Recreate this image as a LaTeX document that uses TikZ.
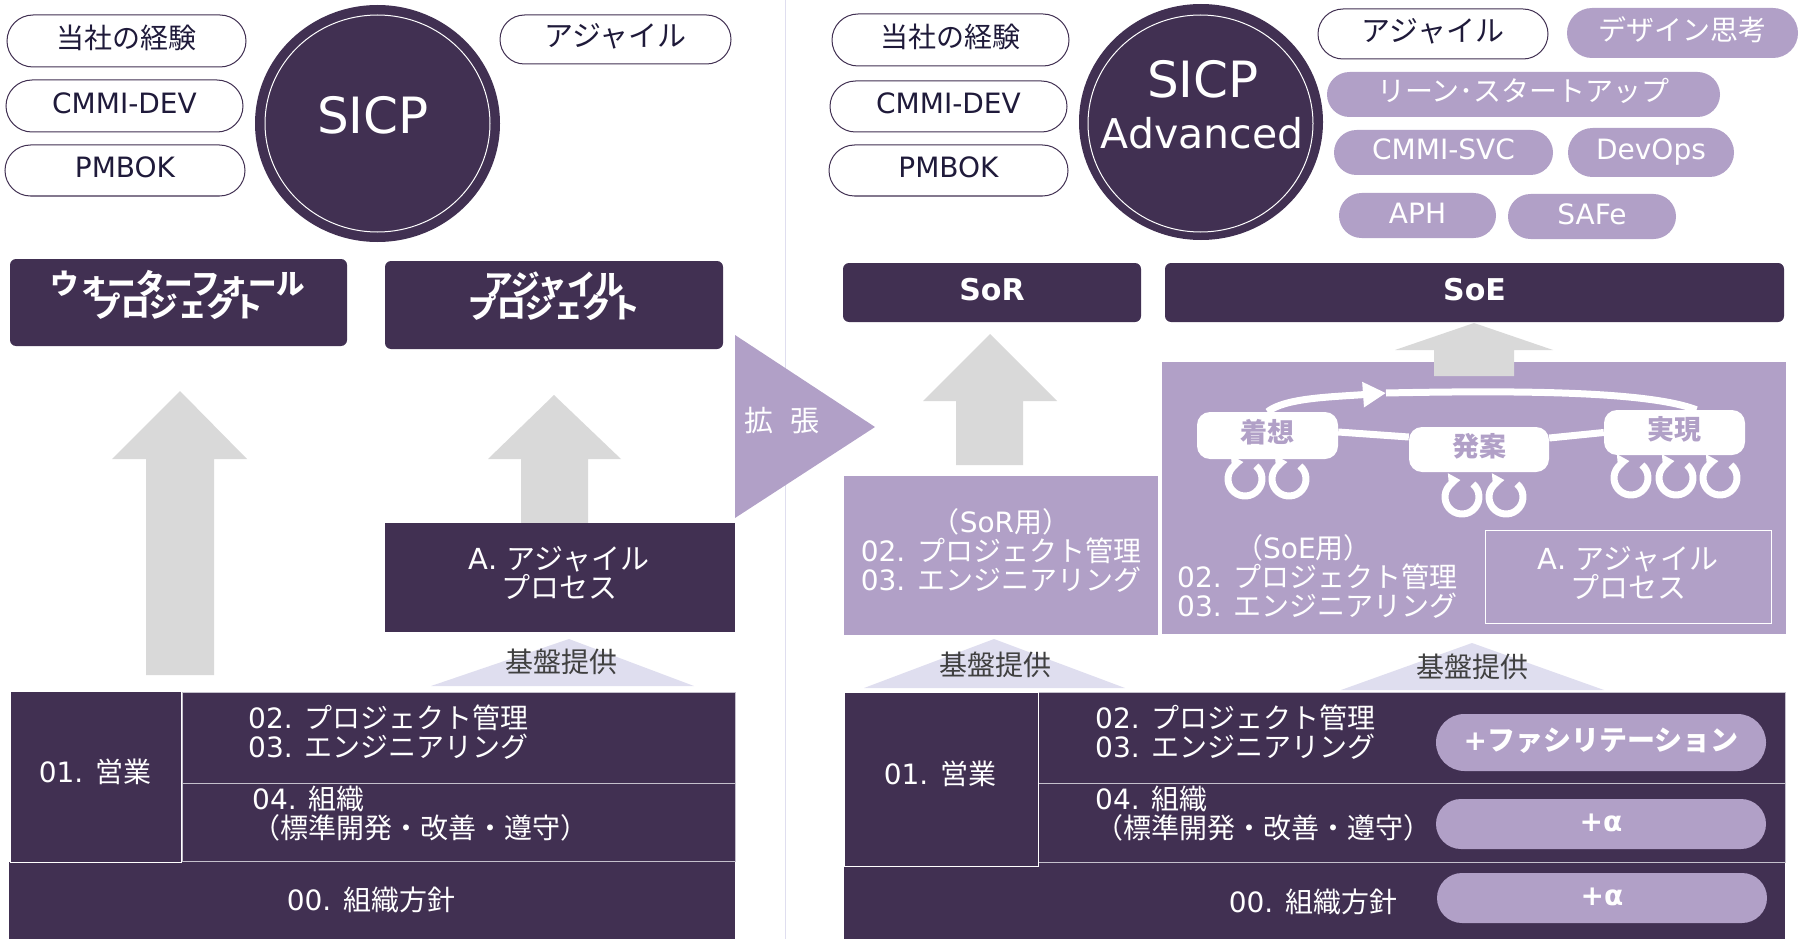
\documentclass[tikz,border=0pt]{standalone}
\usepackage{fontspec}
\setmainfont{DejaVu Sans}
\newfontfamily\jpfont{Noto Sans CJK JP}
\newcommand{\jp}[1]{{\jpfont #1}}
\usetikzlibrary{shapes.geometric,shapes.misc,arrows.meta}
\definecolor{sicpdark}{HTML}{413052}
\definecolor{sicplilac}{HTML}{B1A0C7}
\definecolor{sicppale}{HTML}{DFDEEF}
\definecolor{sicpgrey}{HTML}{D9D9D9}
\definecolor{sicpink}{HTML}{1F1A3A}
\definecolor{sicpline}{HTML}{C4C0CC}
\setlength\normallineskiplimit{-100pt}
\setlength\lineskiplimit{-100pt}
\tikzset{
    lbl/.style={font=\fontsize{28}{29}\selectfont, inner sep=0pt, text=white, text height=24pt, text depth=3pt},
    lblleft/.style={font=\fontsize{28}{29}\selectfont, inner sep=0pt, text=white, align=left, anchor=west},
    lblmid/.style={font=\fontsize{28}{29}\selectfont, inner sep=0pt, text=white, align=center},
    lblproc/.style={lblmid, font=\fontsize{29}{29}\selectfont},
    lbltitle/.style={font=\bfseries\fontsize{28.5}{23.5}\selectfont, inner sep=0pt, text=white, align=center},
    pill/.style={rounded rectangle, inner sep=0pt, font=\fontsize{28}{29}\selectfont, text height=24pt, text depth=9pt},
    whitepill/.style={pill, draw=sicpdark, line width=1pt, fill=white, text=sicpink},
    lilacpill/.style={pill, fill=sicplilac, text=white},
    boldpill/.style={lilacpill, font=\bfseries\fontsize{28}{29}\selectfont},
    darkbox/.style={rectangle, inner sep=0pt, fill=sicpdark, draw=sicpline, line width=1pt},
    titlebox/.style={rectangle, rounded corners=6pt, inner sep=0pt, fill=sicpdark},
    headbox/.style={titlebox, text=white, font=\bfseries\fontsize{30}{30}\selectfont, text height=24pt, text depth=8pt},
    lilacbox/.style={rectangle, inner sep=0pt, fill=sicplilac},
    stagebox/.style={rectangle, rounded corners=13pt, inner sep=0pt, fill=white, text=sicplilac,
        font=\bfseries\fontsize{27}{29}\selectfont, text height=24pt, text depth=11pt},
    emblem/.style={ellipse, inner sep=0pt, fill=sicpdark},
    emblemring/.style={ellipse, inner sep=0pt, draw=white, line width=1pt},
    blockarrow/.style={fill=sicpgrey},
    basetri/.style={fill=sicppale},
    flowline/.style={draw=white, line width=7pt},
    spinline/.style={draw=white, line width=7pt, -{Triangle[length=12pt,width=15pt]}},
}

\begin{document}
\begin{tikzpicture}[x=1pt,y=-1pt]

        \useasboundingbox (0,0) rectangle (1800,939);
        \draw[line width=1pt, sicppale] (785,0) -- (785,939);

        % left side: knowledge areas and SICP
        \node[whitepill, minimum width=239, minimum height=52] (keiken) at (126.5,41) {\jp{当社の経験}};
        \node[whitepill, minimum width=237, minimum height=52] (dev) at (124.5,106) {CMMI-DEV};
        \node[whitepill, minimum width=240, minimum height=51] (pmbok) at (125,170.5) {PMBOK};
        \node[whitepill, font=\fontsize{29}{29}\selectfont, minimum width=231, minimum height=49] (agile) at (615.5,39.5) {\jp{アジャイル}};

        \node[emblem, minimum width=245, minimum height=237] (sicp) at (377.5,123.5) {};
        \node[emblemring, minimum width=225, minimum height=217] (sicpring) at (377.5,123.5) {};
        \node[lbl, font=\fontsize{50}{50}\selectfont, text height=36pt, text depth=0pt] (sicptext) at (373,116) {SICP};

        \node[titlebox, minimum width=337, minimum height=87] (wfbox) at (178.5,302.5) {};
        \node[lbltitle] (wftext) at (178,295) {\jp{ウォーターフォール}\\\jp{プロジェクト}};
        \node[titlebox, minimum width=338, minimum height=88] (agbox) at (554,305) {};
        \node[lbltitle] (agtext) at (554,296.5) {\jp{アジャイル}\\\jp{プロジェクト}};

        \fill[blockarrow] (180,391) -- (247,459) -- (214,459) -- (214,675) -- (146,675) -- (146,459) -- (112,459) -- cycle;
        \fill[blockarrow] (554,395) -- (621,459) -- (588,459) -- (588,523) -- (521,523) -- (521,459) -- (488,459) -- cycle;

        \node[darkbox, draw=none, minimum width=350, minimum height=109] (agproc) at (560,577.5) {};
        \node[lblproc] (agproctext) at (559,572.5) {A. \jp{アジャイル}\\\jp{プロセス}};

        \fill[basetri] (431,686) -- (569,639) -- (694,686) -- cycle;
        \node[lbl, text=black!75] (kiban) at (561,662) {\jp{基盤提供}};

        \node[darkbox, draw=none, minimum width=726, minimum height=77] (policy) at (372,900.5) {};
        \node[darkbox, draw=white, minimum width=171, minimum height=171] (sales) at (95.5,776.5) {};
        \node[darkbox, minimum width=553, minimum height=91] (pm) at (458.5,737.5) {};
        \node[darkbox, minimum width=553, minimum height=78] (org) at (458.5,822) {};
        \node[lbl] (salestext) at (95,772) {01. \jp{営業}};
        \node[lblleft] (pmtext) at (248,732) {02. \jp{プロジェクト管理}\\03. \jp{エンジニアリング}};
        \node[lblleft] (orgtext) at (252,814) {04. \jp{組織}\\\jp{（標準開発・改善・遵守）}};
        \node[lbl] (policytext) at (371,900) {00. \jp{組織方針}};

        % #######################################

        \fill[sicplilac] (735,335) -- (875,427) -- (735,518) -- cycle;
        \node[lbl, font=\fontsize{29}{29}\selectfont] (kakucho) at (782,421) {\jp{拡}\hspace{17pt}\jp{張}};

        % #######################################

        % right side: knowledge areas and SICP Advanced
        \node[whitepill, minimum width=237, minimum height=52] (keikenB) at (950.5,40) {\jp{当社の経験}};
        \node[whitepill, minimum width=237, minimum height=51] (devB) at (948.5,106.5) {CMMI-DEV};
        \node[whitepill, minimum width=239, minimum height=51] (pmbokB) at (948.5,170.5) {PMBOK};
        \node[whitepill, font=\fontsize{29}{29}\selectfont, minimum width=230, minimum height=50] (agileB) at (1433,34) {\jp{アジャイル}};
        \node[lilacpill, minimum width=231, minimum height=50] (design) at (1682.5,33) {\jp{デザイン思考}};
        \node[lilacpill, minimum width=393, minimum height=45] (lean) at (1523.5,94.5) {\jp{リーン･スタートアップ}};
        \node[lilacpill, minimum width=219, minimum height=45] (svc) at (1443.5,152.5) {CMMI-SVC};
        \node[lilacpill, minimum width=166, minimum height=49] (devops) at (1651,152.5) {DevOps};
        \node[lilacpill, minimum width=157, minimum height=45] (aph) at (1417.5,215.5) {APH};
        \node[lilacpill, minimum width=168, minimum height=45] (safe) at (1592,216.5) {SAFe};

        \node[emblem, minimum width=244, minimum height=236] (adv) at (1201,122) {};
        \node[emblemring, minimum width=225, minimum height=217] (advring) at (1200.5,123.5) {};
        \node[lbl, font=\fontsize{50}{50}\selectfont, text height=36pt, text depth=0pt] (advtop) at (1203,80) {SICP};
        \node[lbl, font=\fontsize{41}{41}\selectfont, text height=30pt, text depth=0pt] (advbottom) at (1202,134) {Advanced};

        \node[headbox, minimum width=298, minimum height=59] (sor) at (992,292.5) {SoR};
        \node[headbox, minimum width=619, minimum height=59] (soe) at (1474.5,292.5) {SoE};

        \fill[blockarrow] (990,334) -- (1057,401) -- (1023,401) -- (1023,465) -- (956,465) -- (956,401) -- (923,401) -- cycle;

        \node[lilacbox, minimum width=314, minimum height=159] (sorbox) at (1001,555.5) {};
        \node[lblmid] (sortext) at (1001,550) {\jp{（}SoR\jp{用）}\\02. \jp{プロジェクト管理}\\03. \jp{エンジニアリング}};

        \node[lilacbox, minimum width=624, minimum height=272] (soebox) at (1474,498) {};
        \fill[blockarrow] (1474,323) -- (1553,350) -- (1514,350) -- (1514,376) -- (1434,376) -- (1434,350) -- (1395,350) -- cycle;
        \node[lblleft] (soetext) at (1177,576) {\hspace*{58pt}\jp{（}SoE\jp{用）}\\02. \jp{プロジェクト管理}\\03. \jp{エンジニアリング}};
        \node[rectangle, draw=white, line width=1pt, minimum width=286, minimum height=93] (apbox) at (1628,576.5) {};
        \node[lblproc] (aptext) at (1628,572.5) {A. \jp{アジャイル}\\\jp{プロセス}};

        \node[stagebox, minimum width=141, minimum height=47] (idea) at (1267.5,435.5) {\jp{着想}};
        \node[stagebox, minimum width=140, minimum height=45] (plan) at (1479,449.5) {\jp{発案}};
        \node[stagebox, minimum width=141, minimum height=45] (impl) at (1674.5,432.5) {\jp{実現}};

        \coordinate (flowmid) at (1386,393);
        \draw[flowline] ([yshift=3.5]idea.east) -- ([yshift=12.5]plan.west);
        \draw[flowline] ([yshift=11.5]plan.east) -- (impl.west);
        \draw[flowline] ([xshift=22]impl.north) .. controls (1650,392) and (1530,390) .. (flowmid);
        \draw[flowline, -{Triangle[length=23pt,width=24pt]}] (idea.north) .. controls (1285,398) and (1330,397) .. (flowmid);

        \foreach \cx/\cy in {1245/479, 1289/479, 1462/497, 1506/497, 1631/478, 1676/478, 1720/478}
            \draw[spinline] (\cx,\cy) ++(-50:17) arc[start angle=-50, end angle=265, radius=17];

        \fill[basetri] (864,688) -- (994,639) -- (1125,688) -- cycle;
        \node[lbl, text=black!75] (kibanB) at (995,665) {\jp{基盤提供}};
        \fill[basetri] (1341,690) -- (1472,643) -- (1604,690) -- cycle;
        \node[lbl, text=black!75] (kibanC) at (1472,667) {\jp{基盤提供}};

        \node[darkbox, draw=none, minimum width=941, minimum height=76] (policyB) at (1314.5,901) {};
        \node[darkbox, minimum width=747, minimum height=91] (pmB) at (1411.5,737.5) {};
        \node[darkbox, minimum width=747, minimum height=79] (orgB) at (1411.5,822.5) {};
        \node[darkbox, draw=white, minimum width=194, minimum height=174] (salesB) at (941,779) {};
        \node[lbl] (salesBtext) at (940,774) {01. \jp{営業}};
        \node[lblleft] (pmBtext) at (1095,732) {02. \jp{プロジェクト管理}\\03. \jp{エンジニアリング}};
        \node[lblleft] (orgBtext) at (1095,814) {04. \jp{組織}\\\jp{（標準開発・改善・遵守）}};
        \node[lbl] (policyBtext) at (1313,902) {00. \jp{組織方針}};

        \node[boldpill, minimum width=330, minimum height=57] (facil) at (1601,742.5) {+\jp{ファシリテーション}};
        \node[boldpill, minimum width=330, minimum height=50] (plusA) at (1601,824) {+α};
        \node[boldpill, minimum width=330, minimum height=50] (plusB) at (1602,898) {+α};

    \end{tikzpicture}
\end{document}
